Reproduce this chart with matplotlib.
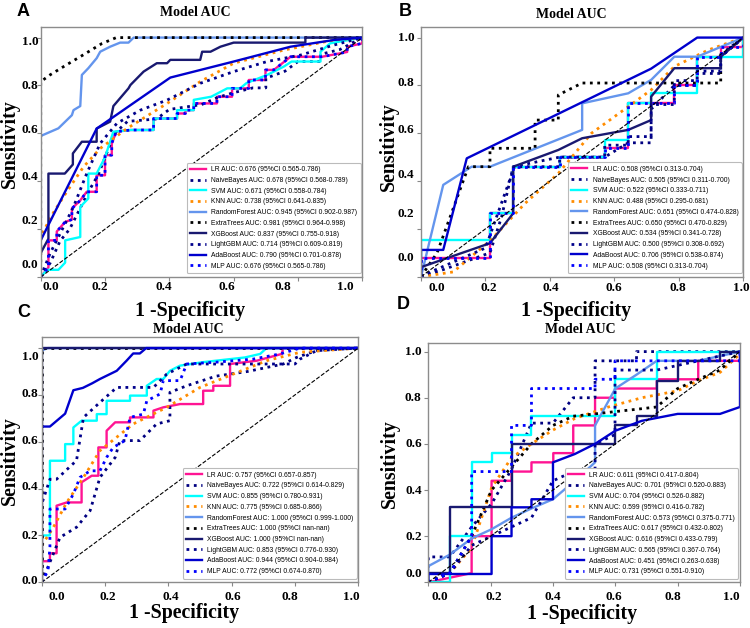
import matplotlib
matplotlib.use('Agg')
import matplotlib.pyplot as plt

# model names, colours, line styles (legend order)
models = ['LR', 'NaiveBayes', 'SVM', 'KNN', 'RandomForest', 'ExtraTrees',
          'XGBoost', 'LightGBM', 'AdaBoost', 'MLP']
colors = ['deeppink', 'navy', 'cyan', 'darkorange', 'cornflowerblue', 'black',
          '#191970', 'darkblue', 'mediumblue', 'blue']
styles = ['-', ':', '-', ':', '-', ':', '-', ':', '-', ':']

# AUC and 95% CI per panel
auc_a = ['0.676', '0.678', '0.671', '0.738', '0.945', '0.981', '0.837', '0.714', '0.790', '0.676']
ci_a = ['0.565-0.786', '0.568-0.789', '0.558-0.784', '0.641-0.835', '0.902-0.987',
        '0.964-0.998', '0.755-0.918', '0.609-0.819', '0.701-0.878', '0.565-0.786']
auc_b = ['0.508', '0.505', '0.522', '0.488', '0.651', '0.650', '0.534', '0.500', '0.706', '0.508']
ci_b = ['0.313-0.704', '0.311-0.700', '0.333-0.711', '0.295-0.681', '0.474-0.828',
        '0.470-0.829', '0.341-0.728', '0.308-0.692', '0.538-0.874', '0.313-0.704']
auc_c = ['0.757', '0.722', '0.855', '0.775', '1.000', '1.000', '1.000', '0.853', '0.944', '0.772']
ci_c = ['0.657-0.857', '0.614-0.829', '0.780-0.931', '0.685-0.866', '0.999-1.000',
        'nan-nan', 'nan-nan', '0.776-0.930', '0.904-0.984', '0.674-0.870']
auc_d = ['0.611', '0.701', '0.704', '0.599', '0.573', '0.617', '0.616', '0.565', '0.451', '0.731']
ci_d = ['0.417-0.804', '0.520-0.883', '0.526-0.882', '0.416-0.782', '0.375-0.771',
        '0.432-0.802', '0.433-0.799', '0.367-0.764', '0.263-0.638', '0.551-0.910']

# ROC points (fpr, tpr)
# ---- A
a_lr = [(0,0),(0.024,0.04),(0.024,0.153),(0.05,0.153),(0.05,0.19),(0.076,0.23),(0.097,0.24),(0.097,0.286),
        (0.123,0.32),(0.143,0.356),(0.174,0.356),(0.174,0.425),(0.2,0.425),(0.2,0.509),(0.221,0.509),
        (0.221,0.558),(0.235,0.607),(0.28,0.614),(0.351,0.614),(0.351,0.662),(0.424,0.662),(0.424,0.683),
        (0.45,0.683),(0.45,0.697),(0.476,0.697),(0.476,0.725),(0.548,0.725),(0.548,0.753),(0.595,0.753),
        (0.595,0.788),(0.647,0.788),(0.647,0.823),(0.699,0.823),(0.699,0.865),(0.725,0.865),(0.777,0.92),
        (0.875,0.92),(0.953,0.94),(0.953,0.962),(1,0.976),(1,1)]
a_nb = [(0,0),(0.03,0.06),(0.06,0.15),(0.09,0.2),(0.12,0.28),(0.15,0.36),(0.18,0.43),(0.2,0.5),(0.23,0.6),
        (0.27,0.65),(0.36,0.66),(0.4,0.7),(0.5,0.72),(0.55,0.75),(0.6,0.77),(0.66,0.79),(0.7,0.79),
        (0.7,0.83),(0.76,0.86),(0.8,0.9),(0.87,0.9),(0.87,0.93),(0.93,0.95),(1,1)]
a_svm = [(0,0),(0.02,0.03),(0.055,0.03),(0.076,0.06),(0.076,0.153),(0.123,0.167),(0.123,0.293),(0.148,0.328),
         (0.148,0.432),(0.174,0.432),(0.2,0.5),(0.226,0.607),(0.28,0.614),(0.351,0.614),(0.351,0.662),
         (0.424,0.662),(0.424,0.697),(0.476,0.697),(0.476,0.74),(0.53,0.753),(0.58,0.788),(0.62,0.788),
         (0.64,0.81),(0.704,0.844),(0.756,0.879),(0.78,0.9),(0.87,0.9),(0.87,0.941),(0.9,0.976),(1,1)]
a_knn = [(0,0),(0,0.17),(0.04,0.27),(0.081,0.356),(0.133,0.46),(0.185,0.537),(0.268,0.62),(0.393,0.725),
         (0.496,0.816),(0.6,0.893),(0.756,0.948),(0.912,0.99),(1,1)]
a_rf = [(0,0),(0,0.589),(0.055,0.621),(0.097,0.676),(0.102,0.697),(0.123,0.714),(0.128,0.844),(0.148,0.872),
        (0.174,0.914),(0.185,0.941),(0.216,0.962),(0.247,0.979),(0.273,0.979),(0.289,1.0),(1,1)]
a_et = [(0,0),(0,0.816),(0.03,0.845),(0.08,0.886),(0.135,0.93),(0.19,0.975),(0.235,1.0),(1,1)]
a_xgb = [(0,0),(0,0.1),(0.024,0.16),(0.024,0.432),(0.075,0.432),(0.1,0.47),(0.1,0.516),(0.128,0.565),
         (0.174,0.565),(0.174,0.62),(0.216,0.649),(0.226,0.714),(0.273,0.788),(0.279,0.802),(0.32,0.858),
         (0.361,0.893),(0.393,0.893),(0.403,0.907),(0.496,0.907),(0.502,0.941),(0.528,0.941),(0.559,0.962),
         (0.6,0.979),(0.823,0.979),(0.823,1.0),(1,1)]
a_lgbm = [(0,0),(0.029,0.098),(0.06,0.18),(0.102,0.293),(0.143,0.432),(0.185,0.558),(0.237,0.642),
          (0.31,0.697),(0.393,0.739),(0.496,0.809),(0.6,0.858),(0.704,0.9),(0.808,0.927),(0.912,0.969),(1,1)]
a_ada = [(0,0),(0,0.153),(0.174,0.62),(0.403,0.833),(0.6,0.9),(0.777,0.962),(0.912,0.99),(1,1)]
a_mlp = list(a_lr)   # same AUC/CI as LR, curves overlap

# ---- B
b_lr = [(0,0),(0,0.077),(0.214,0.077),(0.214,0.265),(0.286,0.265),(0.286,0.46),(0.43,0.46),(0.43,0.5),
        (0.571,0.5),(0.571,0.537),(0.643,0.537),(0.643,0.725),(0.786,0.725),(0.786,0.802),(0.857,0.802),
        (0.857,0.92),(0.93,0.92),(0.93,0.962),(1,0.962),(1,1)]
b_nb = [(0,0),(0.07,0.03),(0.214,0.1),(0.25,0.25),(0.286,0.46),(0.43,0.5),(0.57,0.5),(0.643,0.56),
        (0.714,0.56),(0.714,0.7),(0.786,0.8),(0.857,0.8),(0.857,0.85),(0.93,0.85),(0.93,0.93),(1,1)]
b_svm = [(0,0),(0,0.153),(0.214,0.153),(0.214,0.265),(0.286,0.265),(0.286,0.46),(0.43,0.46),(0.43,0.502),
         (0.571,0.502),(0.571,0.572),(0.643,0.572),(0.643,0.725),(0.714,0.725),(0.714,0.767),(0.857,0.767),
         (0.857,0.92),(1,0.92),(1,1)]
b_knn = [(0,0),(0.1,0.02),(0.214,0.15),(0.323,0.307),(0.426,0.432),(0.529,0.6),(0.643,0.711),(0.714,0.781),
         (0.786,0.879),(0.891,0.948),(1,1)]
b_rf = [(0,0),(0.069,0.384),(0.157,0.46),(0.214,0.46),(0.5,0.614),(0.5,0.725),(0.643,0.767),(0.714,0.823),
        (0.786,0.92),(0.857,0.92),(1,1)]
b_et = [(0,0),(0.05,0.1),(0.147,0.46),(0.214,0.46),(0.214,0.537),(0.354,0.537),(0.354,0.655),(0.426,0.655),
        (0.426,0.76),(0.5,0.81),(0.93,0.81),(0.93,0.92),(1,1)]
b_xgb = [(0,0),(0,0.04),(0.214,0.14),(0.286,0.265),(0.286,0.46),(0.426,0.53),(0.5,0.579),(0.643,0.614),
         (0.714,0.655),(0.714,0.753),(0.786,0.872),(0.93,0.872),(0.93,0.92),(1,1)]
b_lgbm = [(0,0),(0.03,0.02),(0.2,0.12),(0.29,0.46),(0.43,0.46),(0.43,0.5),(0.57,0.5),(0.57,0.55),(0.643,0.55),
          (0.643,0.586),(0.714,0.586),(0.714,0.72),(0.786,0.72),(0.786,0.82),(0.857,0.82),(0.857,0.86),
          (0.93,0.86),(0.93,0.92),(1,1)]
b_ada = [(0,0),(0,0.112),(0.069,0.112),(0.142,0.495),(0.714,0.87),(0.857,1.0),(1,1)]
b_mlp = list(b_lr)

# ---- C
c_lr = [(0,0),(0,0.09),(0.026,0.09),(0.026,0.124),(0.047,0.124),(0.047,0.327),(0.079,0.341),(0.126,0.341),
        (0.126,0.427),(0.158,0.455),(0.179,0.455),(0.179,0.576),(0.205,0.576),(0.205,0.647),(0.232,0.683),
        (0.279,0.683),(0.279,0.704),(0.353,0.704),(0.353,0.733),(0.384,0.747),(0.437,0.761),(0.51,0.761),
        (0.51,0.818),(0.542,0.818),(0.542,0.839),(0.595,0.839),(0.595,0.932),(0.679,0.946),(0.758,0.975),
        (0.763,1.0),(1,1)]
c_nb = [(0,0),(0.058,0.192),(0.11,0.235),(0.153,0.306),(0.184,0.448),(0.232,0.533),(0.247,0.605),(0.31,0.605),
        (0.363,0.676),(0.405,0.69),(0.405,0.811),(0.46,0.84),(0.55,0.88),(0.65,0.9),(0.763,0.932),
        (0.805,0.96),(0.87,0.99),(1,1)]
c_svm = [(0,0),(0,0.2),(0.026,0.2),(0.026,0.519),(0.074,0.519),(0.074,0.59),(0.1,0.59),(0.1,0.661),
         (0.126,0.69),(0.174,0.69),(0.174,0.718),(0.205,0.718),(0.205,0.775),(0.279,0.775),(0.279,0.797),
         (0.332,0.797),(0.332,0.839),(0.363,0.868),(0.384,0.868),(0.405,0.903),(0.437,0.925),(0.51,0.94),
         (0.642,0.96),(0.69,0.975),(0.71,1.0),(1,1)]
c_knn = [(0,0),(0,0.157),(0.037,0.235),(0.079,0.341),(0.132,0.448),(0.184,0.562),(0.289,0.676),(0.395,0.747),
         (0.5,0.832),(0.605,0.889),(0.71,0.946),(0.816,0.982),(1,1)]
c_rf = [(0,0),(0,0.99),(0.02,1.0),(1,1)]
c_et = [(0,0),(0,1),(1,1)]
c_xgb = [(0,0),(0,1),(1,1)]
c_lgbm = [(0,0),(0,0.334),(0.026,0.44),(0.047,0.44),(0.11,0.52),(0.132,0.704),(0.184,0.768),(0.237,0.832),
          (0.353,0.832),(0.395,0.889),(0.458,0.932),(0.605,0.932),(0.8,0.932),(0.816,0.953),(0.868,0.989),(1,1)]
c_ada = [(0,0),(0,0.665),(0.026,0.665),(0.074,0.72),(0.1,0.82),(0.13,0.83),(0.16,0.85),(0.184,0.868),
         (0.237,0.903),(0.268,0.946),(0.289,0.977),(0.31,0.977),(0.33,1.0),(1,1)]
c_mlp = [(0,0),(0.02,0.05),(0.026,0.15),(0.026,0.313),(0.074,0.313),(0.1,0.377),(0.121,0.448),(0.153,0.476),
         (0.184,0.476),(0.205,0.533),(0.226,0.576),(0.263,0.605),(0.279,0.704),(0.321,0.718),(0.332,0.775),
         (0.374,0.804),(0.384,0.861),(0.437,0.861),(0.458,0.932),(0.553,0.94),(0.668,0.953),(0.753,0.975),
         (0.816,1.0),(1,1)]

# ---- D
d_lr = [(0,0),(0.139,0.04),(0.139,0.2),(0.203,0.2),(0.203,0.44),(0.267,0.44),(0.267,0.48),(0.331,0.48),
        (0.331,0.52),(0.401,0.52),(0.401,0.56),(0.465,0.56),(0.465,0.68),(0.535,0.68),(0.535,0.8),(0.599,0.8),
        (0.599,0.84),(0.733,0.84),(0.733,0.88),(0.866,0.88),(0.866,0.96),(1,0.96),(1,1)]
d_nb = [(0,0),(0,0.11),(0.069,0.11),(0.139,0.24),(0.203,0.34),(0.267,0.49),(0.331,0.69),(0.4,0.69),(0.465,0.8),
        (0.535,0.8),(0.535,0.96),(0.668,0.96),(0.668,1.0),(1,1)]
d_svm = [(0,0),(0.069,0),(0.069,0.2),(0.139,0.2),(0.139,0.52),(0.203,0.52),(0.203,0.56),(0.267,0.56),
         (0.267,0.64),(0.331,0.64),(0.331,0.72),(0.599,0.72),(0.599,0.88),(0.733,0.88),(0.733,1.0),(1,1)]
d_knn = [(0,0),(0.069,0.04),(0.139,0.15),(0.203,0.41),(0.267,0.54),(0.331,0.6),(0.4,0.66),(0.47,0.71),
         (0.578,0.76),(0.685,0.8),(0.8,0.83),(0.866,0.874),(0.936,0.91),(1,0.99),(1,1)]
d_rf = [(0,0),(0,0.07),(0.069,0.12),(0.139,0.19),(0.203,0.23),(0.267,0.28),(0.331,0.32),(0.4,0.36),
        (0.47,0.44),(0.535,0.52),(0.535,0.68),(0.6,0.84),(0.668,0.9),(0.733,0.96),(0.866,0.96),(1,1)]
d_et = [(0,0),(0.069,0.04),(0.139,0.2),(0.203,0.4),(0.267,0.5),(0.331,0.6),(0.4,0.68),(0.465,0.72),
        (0.535,0.73),(0.6,0.74),(0.668,0.75),(0.733,0.76),(0.8,0.84),(0.866,0.88),(0.936,0.92),(1,1)]
d_xgb = [(0,0),(0,0.04),(0.069,0.04),(0.069,0.325),(0.267,0.325),(0.267,0.6),(0.599,0.6),(0.599,0.68),
         (0.668,0.68),(0.668,0.72),(0.733,0.72),(0.733,0.874),(0.802,0.874),(0.802,0.96),(0.936,0.96),
         (0.936,1.0),(1,1)]
d_lgbm = [(0,0),(0.069,0.04),(0.139,0.16),(0.203,0.2),(0.267,0.24),(0.331,0.28),(0.4,0.44),(0.465,0.48),
          (0.535,0.48),(0.535,0.6),(0.599,0.64),(0.599,0.92),(0.733,0.92),(0.866,0.96),(1,1)]
d_ada = [(0,0),(0,0.036),(0.203,0.036),(0.203,0.2),(0.267,0.2),(0.267,0.325),(0.331,0.325),(0.331,0.36),
         (0.4,0.36),(0.4,0.52),(0.47,0.556),(0.535,0.6),(0.6,0.657),(0.685,0.7),(0.8,0.73),(0.936,0.73),
         (1,0.76),(1,1)]
d_mlp = [(0,0),(0.069,0.04),(0.139,0.2),(0.139,0.48),(0.267,0.48),(0.267,0.68),(0.331,0.68),(0.331,0.84),
         (0.535,0.84),(0.535,0.88),(0.599,0.88),(0.599,0.96),(1,0.96),(1,1)]

tick_text = ['0.0', '0.2', '0.4', '0.6', '0.8', '1.0']

W, H = 750, 628
fig = plt.figure(figsize=(W / 100, H / 100), dpi=100)


def fx(px):
    return px / W


def fy(py):
    return 1 - py / H


# panel layout in pixels: left, right, top, bottom, ylim top, tick label places
panels = [
    dict(curves=[a_lr, a_nb, a_svm, a_knn, a_rf, a_et, a_xgb, a_lgbm, a_ada, a_mlp], auc=auc_a, ci=ci_a,
         box=(40.7, 362.3, 27.3, 277.0), ytop=1.043, letter='A', letter_xy=(23, 11),
         title_xy=(195, 12.5), xl_xy=(190, 311), yl_xy=(10, 144), xdy=10, ydx=2.5,
         xpos=[0.032, 0.184, 0.383, 0.578, 0.754, 0.946], ypos=[0.05, 0.235, 0.418, 0.616, 0.797, 0.982]),
    dict(curves=[b_lr, b_nb, b_svm, b_knn, b_rf, b_et, b_xgb, b_lgbm, b_ada, b_mlp], auc=auc_b, ci=ci_b,
         box=(421.0, 743.3, 27.3, 276.7), ytop=1.043, letter='B', letter_xy=(405, 11),
         title_xy=(571, 14), xl_xy=(576, 311), yl_xy=(389, 147), xdy=11, ydx=6.7,
         xpos=[0.049, 0.209, 0.403, 0.597, 0.798, 0.995], ypos=[0.078, 0.262, 0.426, 0.614, 0.808, 1.0]),
    dict(curves=[c_lr, c_nb, c_svm, c_knn, c_rf, c_et, c_xgb, c_lgbm, c_ada, c_mlp], auc=auc_c, ci=ci_c,
         box=(41.7, 358.3, 337.3, 582.3), ytop=1.046, letter='C', letter_xy=(24, 313),
         title_xy=(188, 329), xl_xy=(184, 613), yl_xy=(10, 461), xdy=14.5, ydx=3.4,
         xpos=[0.047, 0.21, 0.407, 0.605, 0.784, 0.979], ypos=[0.007, 0.199, 0.405, 0.604, 0.804, 0.96]),
    dict(curves=[d_lr, d_nb, d_svm, d_knn, d_rf, d_et, d_xgb, d_lgbm, d_ada, d_mlp], auc=auc_d, ci=ci_d,
         box=(428.3, 740.0, 343.3, 582.3), ytop=1.036, letter='D', letter_xy=(403, 305),
         title_xy=(580, 329), xl_xy=(582, 614), yl_xy=(390, 464), xdy=14.5, ydx=6.6,
         xpos=[0.037, 0.209, 0.401, 0.594, 0.784, 0.973], ypos=[0.036, 0.198, 0.397, 0.6, 0.8, 1.0]),
]

serif = 'Liberation Serif'
for p in panels:
    l, r, t, b = p['box']
    ax = fig.add_axes([fx(l), fy(b), (r - l) / W, (b - t) / H])
    for i, m in enumerate(models):
        pts = p['curves'][i]
        xs = [q[0] for q in pts]
        ys = [q[1] for q in pts]
        lw = 2.0 if styles[i] == ':' else 1.7
        ax.plot(xs, ys, color=colors[i], linestyle=styles[i], lw=lw,
                label=f"{m} AUC: {p['auc'][i]} (95%CI {p['ci'][i]})")
    ax.plot([0, 1], [0, 1], color='black', linestyle='--', lw=0.8)
    ax.set_xlim(0, 1)
    ax.set_ylim(0, p['ytop'])
    ax.set_xticks([0, 0.2, 0.4, 0.6, 0.8, 1.0])
    ax.set_yticks([0, 0.2, 0.4, 0.6, 0.8, 1.0])
    ax.set_xticklabels([])
    ax.set_yticklabels([])
    ax.tick_params(length=3, width=0.8, color='#888888')
    for s in ax.spines.values():
        s.set_color('#8c8c8c')
        s.set_linewidth(1.0)
    # tick labels sit where the source put them
    for v, txt in zip(p['xpos'], tick_text):
        ax.annotate(txt, xy=(v, 0), xycoords=('axes fraction', 'axes fraction'),
                    xytext=(0, -p['xdy'] * 0.72), textcoords='offset points',
                    ha='center', va='center', fontsize=9.5, fontweight='bold', family=serif)
    for v, txt in zip(p['ypos'], tick_text):
        ax.annotate(txt, xy=(0, v), xycoords=('axes fraction', 'data'),
                    xytext=(-p['ydx'] * 0.72, 0), textcoords='offset points',
                    ha='right', va='center', fontsize=9.5, fontweight='bold', family=serif)
    leg = ax.legend(loc='lower right', bbox_to_anchor=(0.995, 0.015), borderaxespad=0,
                    prop={'family': 'Liberation Sans', 'size': 4.9}, handlelength=2.3,
                    labelspacing=0.55, borderpad=0.5, handletextpad=0.8, framealpha=1)
    leg.get_frame().set_edgecolor('#bbbbbb')
    leg.get_frame().set_linewidth(0.8)

    fig.text(fx(p['letter_xy'][0]), fy(p['letter_xy'][1]), p['letter'], ha='center', va='center',
             fontsize=13, fontweight='bold', family='Liberation Sans')
    fig.text(fx(p['title_xy'][0]), fy(p['title_xy'][1]), 'Model AUC', ha='center', va='center',
             fontsize=10, fontweight='bold', family=serif)
    fig.text(fx(p['xl_xy'][0]), fy(p['xl_xy'][1]), '1 -Specificity', ha='center', va='center',
             fontsize=14.3, fontweight='bold', family=serif)
    fig.text(fx(p['yl_xy'][0]), fy(p['yl_xy'][1]), 'Sensitivity', ha='center', va='center',
             rotation=90, fontsize=14.3, fontweight='bold', family=serif)

fig.savefig('out.png', dpi=100)
